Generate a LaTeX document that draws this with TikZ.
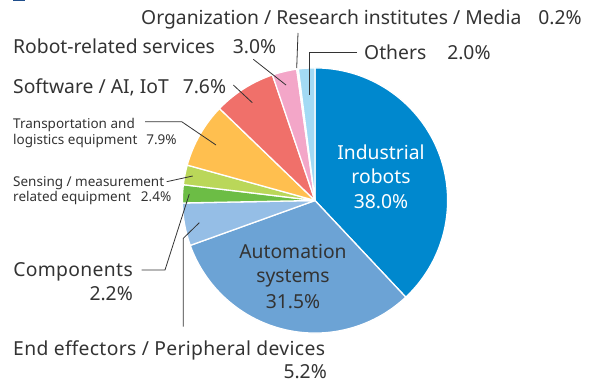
\documentclass[tikz,border=0pt]{standalone}
\usepackage{fontspec}
\setmainfont{Noto Sans}
\newfontfamily\widefont[LetterSpace=1.8]{Noto Sans}
\definecolor{txt}{HTML}{333333}
\definecolor{ldr}{HTML}{333333}
\definecolor{topbar}{HTML}{1F4E8C}
\definecolor{ind}{HTML}{0088CE}
\definecolor{aut}{HTML}{6CA3D5}
\definecolor{endc}{HTML}{95BEE6}
\definecolor{comp}{HTML}{6CBD45}
\definecolor{sens}{HTML}{BAD759}
\definecolor{trans}{HTML}{FFBF4F}
\definecolor{soft}{HTML}{F0706A}
\definecolor{robo}{HTML}{F3A6C8}
\definecolor{orgc}{HTML}{E6E6E6}
\definecolor{oth}{HTML}{A3DAF4}
\begin{document}
\begin{tikzpicture}[x=1pt,y=-1pt,
  big/.style={font=\fontsize{19.3}{24}\selectfont, text=txt, inner sep=0pt},
  bigwide/.style={font=\widefont\fontsize{19.3}{24}\selectfont, text=txt, inner sep=0pt},
  small/.style={font=\fontsize{13.5}{16}\selectfont, text=txt, inner sep=0pt},
  leader/.style={draw=ldr, line width=0.8pt},
  slice/.style={draw=white, line width=1.3pt, line join=round}]
\useasboundingbox (0,0) rectangle (592,385);
\fill[topbar] (13,0) rectangle (25,1.2);
\coordinate (C) at (315,200.5);
\foreach \a/\b/\c in {-90/46.8/ind, 46.8/160.2/aut, 160.2/178.92/endc,
  178.92/186.84/comp, 186.84/195.48/sens, 195.48/223.92/trans,
  223.92/251.28/soft, 251.28/262.08/robo, 262.08/262.8/orgc, 262.8/270/oth}
  \filldraw[slice, fill=\c] (C) -- ++(\a:132.6) arc[start angle=\a, end angle=\b, radius=132.6] -- cycle;
% inner labels
\node[big, text=white, anchor=base] (ind1) at (381,159.3) {Industrial};
\node[big, text=white, anchor=base] (ind2) at (381,183.3) {robots};
\node[big, text=white, anchor=base] (ind3) at (381,208.3) {38.0\%};
\node[big, anchor=base] (aut1) at (293,258.3) {Automation};
\node[big, anchor=base] (aut2) at (293,282.3) {systems};
\node[big, anchor=base] (aut3) at (293,308.3) {31.5\%};
% outer labels
\node[big, anchor=base west] (org) at (141,25) {Organization / Research institutes / Media\hspace{17pt}0.2\%};
\node[big, anchor=base west] (oth) at (364,60) {Others\hspace{21pt}2.0\%};
\node[big, anchor=base west] (rob) at (13,53.3) {Robot-related services\hspace{18pt}3.0\%};
\node[big, anchor=base west] (sof) at (13,93.3) {Software / AI, IoT\hspace{14pt}7.6\%};
\node[small, anchor=base west] (tra1) at (13,128.3) {Transportation and};
\node[small, anchor=base west] (tra2) at (13,145) {logistics equipment\hspace{9pt}7.9\%};
\node[small, anchor=base west] (sen1) at (13,186) {Sensing / measurement};
\node[small, anchor=base west] (sen2) at (13,201.7) {related equipment\hspace{10pt}2.4\%};
\node[bigwide, anchor=base east] (com1) at (133,276) {Components};
\node[big, anchor=base east] (com2) at (133,300) {2.2\%};
\node[bigwide, anchor=base west] (eff1) at (13,355) {End effectors / Peripheral devices};
\node[big, anchor=base east] (eff2) at (327,378.3) {5.2\%};
% leader coordinates
\coordinate (orgA) at (298,33);   \coordinate (orgB) at (296.7,68);
\coordinate (othA) at (357,52);   \coordinate (othK) at (309,52);  \coordinate (othB) at (309,95);
\coordinate (robA) at (253.3,59.3); \coordinate (robB) at (286,85);
\coordinate (sofA) at (233.3,85); \coordinate (sofB) at (252.3,102.7);
\coordinate (traA) at (145,121.7); \coordinate (traK) at (181.7,121.7); \coordinate (traB) at (216,145);
\coordinate (senA) at (166.7,181.7); \coordinate (senB) at (192.7,176);
\coordinate (comA) at (141.7,270); \coordinate (comK) at (165,270); \coordinate (comB) at (189.3,194);
\coordinate (effA) at (183.3,326.7); \coordinate (effK) at (183.3,238.3); \coordinate (effB) at (199.3,222.7);
\draw[leader] (orgA) -- (orgB);
\draw[leader] (othA) -- (othK) -- (othB);
\draw[leader] (robA) -- (robB);
\draw[leader] (sofA) -- (sofB);
\draw[leader] (traA) -- (traK) -- (traB);
\draw[leader] (senA) -- (senB);
\draw[leader] (comA) -- (comK) -- (comB);
\draw[leader] (effA) -- (effK) -- (effB);
\end{tikzpicture}
\end{document}
